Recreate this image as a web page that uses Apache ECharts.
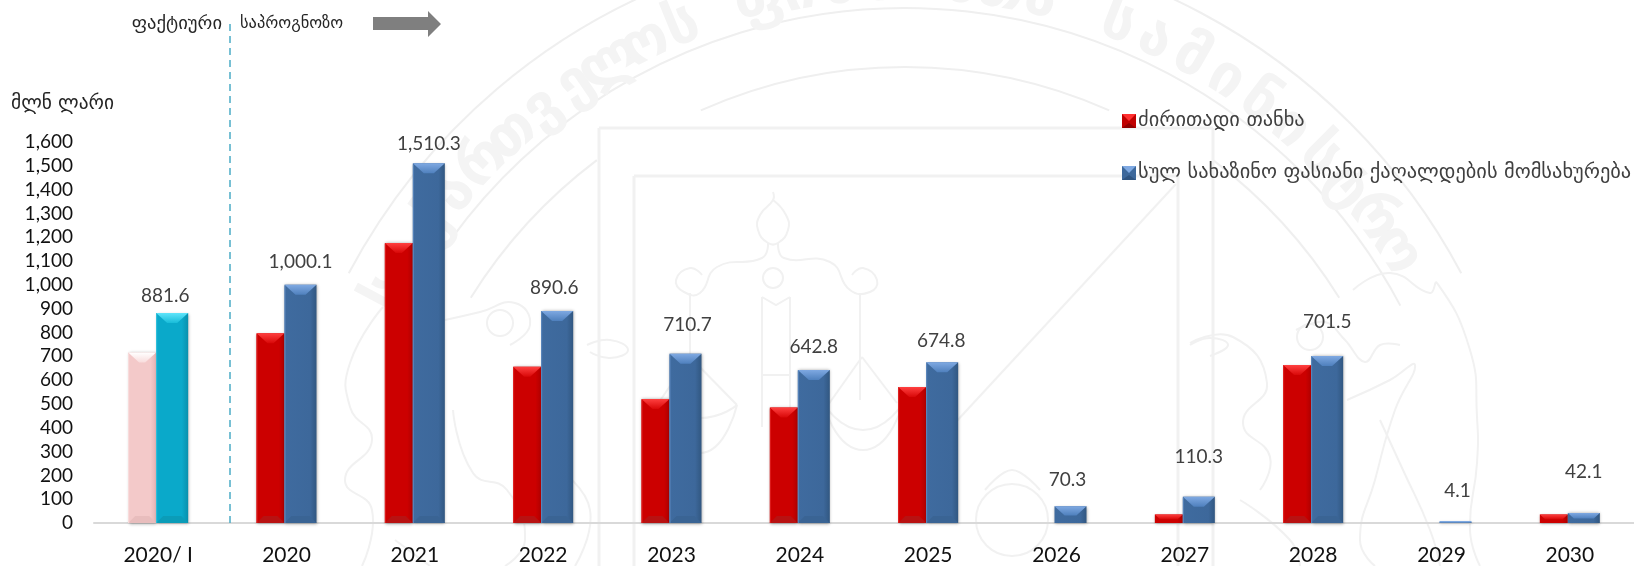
<!DOCTYPE html>
<html>
<head>
<meta charset="utf-8">
<style>html,body{margin:0;padding:0;background:#fff}#c{width:1634px;height:566px}</style>
<script src="https://cdn.jsdelivr.net/npm/echarts@6/dist/echarts.min.js"></script>
</head>
<body>
<div id="c"></div>
<script>
const categories = ['2020/ I','2020','2021','2022','2023','2024','2025','2026','2027','2028','2029','2030'];
const principal = [716,797,1176,656,521,485,571,null,36,663,null,36];
const totalService = [881.6,1000.1,1510.3,890.6,710.7,642.8,674.8,70.3,110.3,701.5,4.1,42.1];
const yTicks = {min:0,max:1600,interval:100};
const nameRed = 'ძირითადი თანხა';
const nameBlue = 'სულ სახაზინო ფასიანი ქაღალდების მომსახურება';
const labelShift = [[-7,-8],[0,-13],[0,-10],[-3,-14],[2,-19],[0,-14],[-1,-12],[-3,-17],[0,-30],[0,-25],[2,-22],[0,-32]];

const KA = '"DejaVu Sans"';
const LAT = 'Lato';
const W_RED = 28, W_BLUE = 32;

const redPal  = {main:['#cc0000','#cc0000','#b00000'],top:['#ff4040','#d80808'],bot:'#b81212',edge:'#e02020'};
const bluePal = {main:['#3f6b9f','#3d689b','#315781'],top:['#7fa9e2','#4f80bd'],bot:'#3a6494',edge:'#5a86bd'};
const pinkPal = {main:['#f3c9c9','#f3c9c9','#e4b4b4'],top:['#ffffff','#f8dcdc'],bot:'#e8bdbd',edge:'#f8dede'};
const cyanPal = {main:['#0aa9ca','#0aa9ca','#0890ad'],top:['#5fe4fa','#18bcd9'],bot:'#0b9cb8',edge:'#30c0dc'};

function hGrad(p){return {type:'linear',x:0,y:0,x2:1,y2:0,colorStops:[{offset:0,color:p[0]},{offset:.8,color:p[1]},{offset:1,color:p[2]}]};}
function vGrad(p){return {type:'linear',x:0,y:0,x2:0,y2:1,colorStops:[{offset:0,color:p[0]},{offset:1,color:p[1]}]};}

function barSeries(name,values,width,pal,firstPal,z,withLabel){
  return {
    name,type:'bar',barWidth:width,barGap:0,z,
    data:values.map((v,i)=>{
      const d={value:v};
      d.itemStyle={color:hGrad((i===0?firstPal:pal).main),shadowBlur:3,shadowColor:'rgba(0,0,0,0.35)',shadowOffsetX:0.5,shadowOffsetY:0.5};
      if(withLabel){d.label={show:true,position:'top',distance:0,offset:labelShift[i],formatter:()=>v.toLocaleString('en-US',{minimumFractionDigits:1,maximumFractionDigits:1}),color:'#404040',fontFamily:LAT,fontSize:19};}
      return d;
    })
  };
}
function bevelSeries(values,left,width,pal,firstPal,z){
  return {
    type:'custom',z,silent:true,clip:false,tooltip:{show:false},legendHoverLink:false,
    data:values.map((v,i)=>[i,v]).filter(d=>d[1]!==null),
    encode:{x:0,y:1},
    renderItem(params,api){
      const i=api.value(0),v=api.value(1);
      const c=api.coord([i,v]),b=api.coord([i,0]);
      const p=i===0?firstPal:pal;
      const x0=c[0]+left,x1=x0+width,yT=c[1],yB=b[1],H=yB-yT;
      if(H<3){return {type:'rect',shape:{x:x0,y:yT-1,width:width,height:Math.max(H,1.5)},style:{fill:p.top[0]}};}
      const t=Math.min(10,H*0.55),bm=H>30?7:0;
      const ins=Math.min(t*1.1,width/2-2);
      const kids=[{type:'polygon',shape:{points:[[x0,yT],[x1,yT],[x1-ins,yT+t],[x0+ins,yT+t]]},style:{fill:vGrad(p.top)}}];
      if(bm){kids.push({type:'polygon',shape:{points:[[x0,yB],[x1,yB],[x1-bm,yB-bm],[x0+bm,yB-bm]]},style:{fill:p.bot}});}
      if(H>20){kids.push({type:'line',shape:{x1:x0+.5,y1:yT+1,x2:x0+.5,y2:yB},style:{stroke:p.edge,lineWidth:1}});}
      return {type:'group',children:kids};
    }
  };
}

function svgIcon(main,dark,top){
  const s="<svg xmlns='http://www.w3.org/2000/svg' width='14' height='14'><rect width='14' height='14' fill='"+main+"'/><polygon points='0,0 14,0 7,7' fill='"+top+"'/><polygon points='0,14 14,14 7,9' fill='"+dark+"'/></svg>";
  return 'image://data:image/svg+xml;charset=utf-8,'+encodeURIComponent(s);
}

/* faint seal behind the chart */
const CX=905,CY=569,WM='#efefef',WL='#f1f1f1';
function ring(r,a,b,w){return {type:'arc',silent:true,z:-5,shape:{cx:CX,cy:CY,r,startAngle:(a-90)*Math.PI/180,endAngle:(b-90)*Math.PI/180,clockwise:true},style:{stroke:WM,lineWidth:w||2,fill:null}};}
function seg(pts,smooth,w){return {type:'polyline',silent:true,z:-5,shape:{points:pts,smooth:smooth||0},style:{stroke:WL,lineWidth:w||2,fill:null}};}
function loop(cx,cy,r){return {type:'circle',silent:true,z:-5,shape:{cx,cy,r},style:{stroke:WL,lineWidth:2,fill:null}};}
const sealText='საქართველოს ფინანსთა სამინისტრო';
const sealChars=Array.from(sealText).map((ch,i,arr)=>{
  const deg=-62+i*(119/(arr.length-1)),rad=deg*Math.PI/180;
  return {type:'text',silent:true,z:-5,x:CX+585*Math.sin(rad),y:CY-585*Math.cos(rad),rotation:-rad,
    style:{text:ch,fill:'#f4f4f4',font:'bold 58px '+KA,align:'center',verticalAlign:'middle'}};
});
const seal=[
  ring(630,-62,62),ring(561,-62,62),ring(502,-24,24),ring(512,-58,-37),ring(512,37,58),
  seg([[599,128],[1213,128]],0,3),seg([[599,128],[599,566]],0,3),seg([[1213,128],[1213,566]],0,3),
  seg([[634,176],[1178,176]],0,3),seg([[634,176],[634,566]],0,3),seg([[1178,176],[1178,566]],0,3),
  seg([[1176,184],[930,450]]),
  /* scales */
  seg([[773,192],[773,200],[760,215],[758,230],[768,243],[778,243],[788,230],[786,215],[773,200]],.5),
  seg([[768,243],[762,258],[717,267],[700,293],[684,292],[676,280],[690,268],[702,275]],.5),
  seg([[778,243],[784,258],[830,262],[850,290],[870,292],[877,280],[863,268],[852,275]],.5),
  loop(773,278,10),
  seg([[762,297],[762,427]]),seg([[790,297],[790,427]]),seg([[762,297],[776,305],[790,297]]),seg([[762,375],[790,375]]),
  seg([[690,293],[690,400]]),seg([[860,293],[860,400]]),
  seg([[690,357],[657,405]]),seg([[690,357],[737,405]]),seg([[862,357],[828,405]]),seg([[862,357],[897,403]]),
  seg([[663,405],[700,453],[737,405]],.7),seg([[823,403],[863,450],[903,403]],.7),seg([[663,405],[700,418],[737,405]],.6),seg([[823,403],[863,430],[903,403]],.6),
  /* bottom ornament */
  loop(1012,520,36),
  seg([[985,490],[1012,470],[1040,490]],.4),
  /* left lion */
  loop(500,323,13),
  seg([[445,320],[480,312],[515,303],[530,325],[510,345]],.5),
  seg([[383,307],[350,363],[350,407],[372,440],[345,480],[372,510],[362,566]],.5),
  seg([[453,410],[473,473],[507,490],[525,540],[505,566]],.5),
  seg([[560,470],[590,510],[575,566]],.5),
  seg([[395,540],[430,566]],.3),
  seg([[587,345],[610,340],[628,350],[610,358],[590,352]],.5),
  /* right lion */
  seg([[1353,290],[1390,273],[1430,293],[1437,283],[1470,350],[1477,417],[1477,463],[1470,530],[1480,566]],.5),
  loop(1310,337,13),
  seg([[1296,330],[1325,322],[1345,340],[1365,362],[1380,345],[1400,345]],.4),
  seg([[1347,400],[1390,380],[1415,365],[1395,410],[1375,480],[1360,540],[1375,566]],.5),
  seg([[1190,343],[1233,337],[1267,383],[1243,423],[1270,457],[1260,490]],.5),
  seg([[1380,420],[1403,470],[1430,530],[1440,566]],.5),
  seg([[1240,500],[1290,540],[1300,566]],.5),
  seg([[1190,345],[1210,338],[1228,345],[1210,356]],.5)
].concat(sealChars);

const annotations=[
  {type:'line',silent:true,z:1,shape:{x1:230,y1:24,x2:230,y2:524},style:{stroke:'#4bacc6',lineWidth:1.5,lineDash:[7,5]}},
  {type:'text',silent:true,x:222,y:24,style:{text:'ფაქტიური',font:'18.6px '+KA,fill:'#262626',align:'right',verticalAlign:'middle'}},
  {type:'text',silent:true,x:240,y:24,style:{text:'საპროგნოზო',font:'16.4px '+KA,fill:'#262626',align:'left',verticalAlign:'middle'}},
  {type:'text',silent:true,x:11,y:104,style:{text:'მლნ ლარი',font:'19.4px '+KA,fill:'#262626',align:'left',verticalAlign:'middle'}},
  {type:'polygon',silent:true,shape:{points:[[373,17],[428,17],[428,11],[441,24],[428,37],[428,30],[373,30]]},style:{fill:'#7f7f7f'}}
];

const chart=echarts.init(document.getElementById('c'),null,{renderer:'canvas',width:1634,height:566});
chart.setOption({
  animation:false,
  backgroundColor:'#fff',
  grid:{left:94,top:142,width:1543,height:382,containLabel:false},
  legend:{
    orient:'vertical',left:1117,top:106,itemWidth:14,itemHeight:14,itemGap:32,selectedMode:false,
    textStyle:{color:'#404040',fontFamily:KA,fontSize:20.4,padding:[0,0,0,-3]},
    data:[{name:nameRed,icon:svgIcon('#c00000','#8f0000','#ff3030')},{name:nameBlue,icon:svgIcon('#3d689b','#2f5480','#7fa9e2')}]
  },
  xAxis:{type:'category',data:categories,boundaryGap:true,
    axisLine:{show:true,onZero:true,lineStyle:{color:'#d9d9d9',width:2}},axisTick:{show:false},
    axisLabel:{color:'#111',fontFamily:LAT,fontSize:21,margin:22,interval:0,hideOverlap:false}},
  yAxis:{type:'value',min:yTicks.min,max:yTicks.max,interval:yTicks.interval,
    splitLine:{show:false},axisLine:{show:false},axisTick:{show:false},
    axisLabel:{color:'#111',fontFamily:LAT,fontSize:19,margin:21,align:'right',padding:[7,0,0,0],
      formatter:v=>v.toLocaleString('en-US')}},
  graphic:{elements:seal.concat(annotations)},
  series:[
    barSeries(nameRed,principal,W_RED,redPal,pinkPal,2,false),
    bevelSeries(principal,-30,W_RED,redPal,pinkPal,3),
    barSeries(nameBlue,totalService,W_BLUE,bluePal,cyanPal,4,true),
    bevelSeries(totalService,-2,W_BLUE,bluePal,cyanPal,5)
  ]
});
</script>
</body>
</html>
